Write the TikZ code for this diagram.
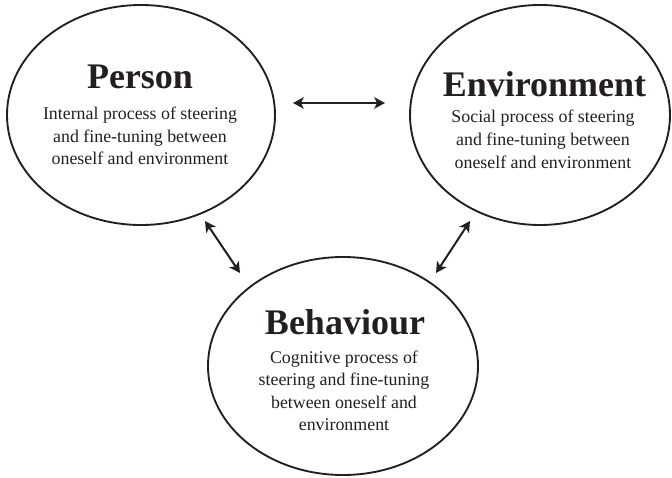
\documentclass[tikz,border=0pt]{standalone}
\usepackage{fontspec}
\setmainfont{Liberation Serif}
\usetikzlibrary{shapes.geometric,arrows.meta}
\definecolor{ink}{HTML}{231F20}
\begin{document}
\begin{tikzpicture}[x=0.75pt,y=-0.75pt,
  oval/.style={ellipse, draw=ink, line width=1.4pt, inner sep=0pt},
  heading/.style={font=\bfseries\fontsize{27}{32}\selectfont, text=ink, anchor=base, inner sep=0pt},
  body/.style={font=\fontsize{13.4}{16.9}\selectfont, text=ink, align=center, anchor=north, inner sep=0pt},
  tip/.style={Stealth[length=8pt,width=8.5pt,inset=2pt]},
  link/.style={draw=ink, line width=1.5pt, {Stealth[length=8pt,width=8.5pt,inset=2pt]}-{Stealth[length=8pt,width=8.5pt,inset=2pt]}}]
\useasboundingbox (0,0) rectangle (672,478);

% the three ovals
\node[oval, minimum width=201pt, minimum height=165pt] (P) at (141,115) {};
\node[oval, minimum width=195pt, minimum height=165pt] (E) at (540,115) {};
\node[oval, minimum width=202.5pt, minimum height=163.5pt] (B) at (343,366) {};

% Person
\node[heading] (Pt) at (140,89) {Person};
\node[body] (Pb) at (140,106.8) {Internal process of steering\\and fine-tuning between\\oneself and environment};

% Environment
\node[heading] (Et) at (544.5,96.7) {Environment};
\node[body] (Eb) at (543,110.1) {Social process of steering\\and fine-tuning between\\oneself and environment};

% Behaviour
\node[heading] (Bt) at (345,334.3) {Behaviour};
\node[body] (Bb) at (344,350.5) {Cognitive process of\\steering and fine-tuning\\between oneself and\\environment};

% arrow ends, set off from the ovals
\coordinate (pe) at (293,103);
\coordinate (ep) at (385,103);
\coordinate (pb) at (205,221);
\coordinate (bp) at (240,273);
\coordinate (eb) at (470,221);
\coordinate (be) at (436,273);

\draw[link] (pe) -- (ep);
\draw[link] (pb) -- (bp);
\draw[link] (eb) -- (be);
\end{tikzpicture}
\end{document}
